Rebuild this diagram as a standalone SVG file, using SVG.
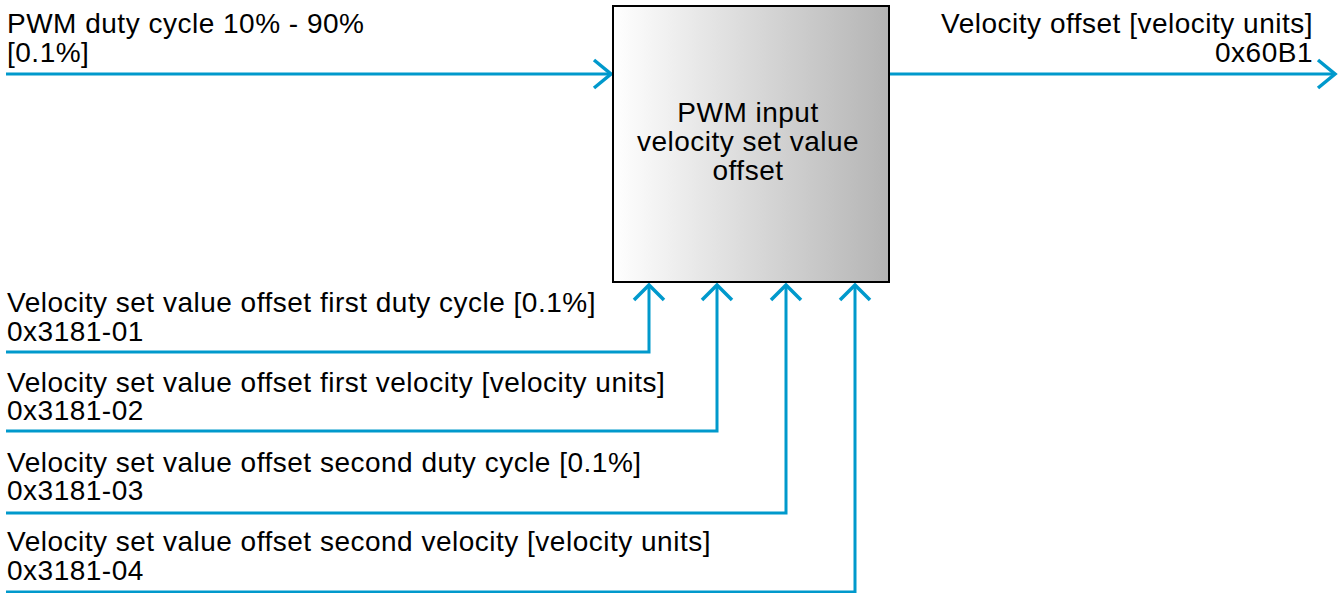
<svg xmlns="http://www.w3.org/2000/svg" width="1341" height="593" viewBox="0 0 1341 593">
<style>
text{font-family:"Liberation Sans",Arial,sans-serif;font-size:28px;letter-spacing:0.5px;fill:#000}
.c{fill:none;stroke:#0099cc;stroke-width:3}
.a{fill:none;stroke:#0099cc;stroke-width:3.5}
</style>
<defs>
<linearGradient id="g" x1="0" y1="0" x2="1" y2="0">
<stop offset="0" stop-color="#ffffff"/>
<stop offset="1" stop-color="#b4b4b4"/>
</linearGradient>
</defs>
<rect width="1341" height="593" fill="#fff"/>
<g id="connectors">
<path class="c" d="M6 74H611"/>
<path class="a" d="M594 60L611 74L594 88"/>
<path class="c" d="M890 74H1335"/>
<path class="a" d="M1318 60L1335 74L1318 88"/>
<path class="c" d="M6 352H649V285"/>
<path class="a" d="M634 300L649 285L664 300"/>
<path class="c" d="M6 431H717V285"/>
<path class="a" d="M702 300L717 285L732 300"/>
<path class="c" d="M6 513H786V285"/>
<path class="a" d="M771 300L786 285L801 300"/>
<path class="c" d="M6 592H855V285"/>
<path class="a" d="M840 300L855 285L870 300"/>
</g>
<g id="block">
<rect x="613" y="6" width="276" height="276" fill="url(#g)" stroke="#000" stroke-width="2"/>
<text x="748" y="122" text-anchor="middle">PWM input</text>
<text x="748" y="151" text-anchor="middle">velocity set value</text>
<text x="748" y="180" text-anchor="middle">offset</text>
</g>
<g id="in-pwm">
<text x="7" y="33">PWM duty cycle 10% - 90%</text>
<text x="7" y="62">[0.1%]</text>
</g>
<g id="out-velocity">
<text x="1313" y="33" text-anchor="end">Velocity offset [velocity units]</text>
<text x="1313" y="62" text-anchor="end">0x60B1</text>
</g>
<g id="in-1">
<text x="7" y="312">Velocity set value offset first duty cycle [0.1%]</text>
<text x="7" y="341">0x3181-01</text>
</g>
<g id="in-2">
<text x="7" y="392">Velocity set value offset first velocity [velocity units]</text>
<text x="7" y="420">0x3181-02</text>
</g>
<g id="in-3">
<text x="7" y="472">Velocity set value offset second duty cycle [0.1%]</text>
<text x="7" y="500">0x3181-03</text>
</g>
<g id="in-4">
<text x="7" y="551">Velocity set value offset second velocity [velocity units]</text>
<text x="7" y="580">0x3181-04</text>
</g>
</svg>
